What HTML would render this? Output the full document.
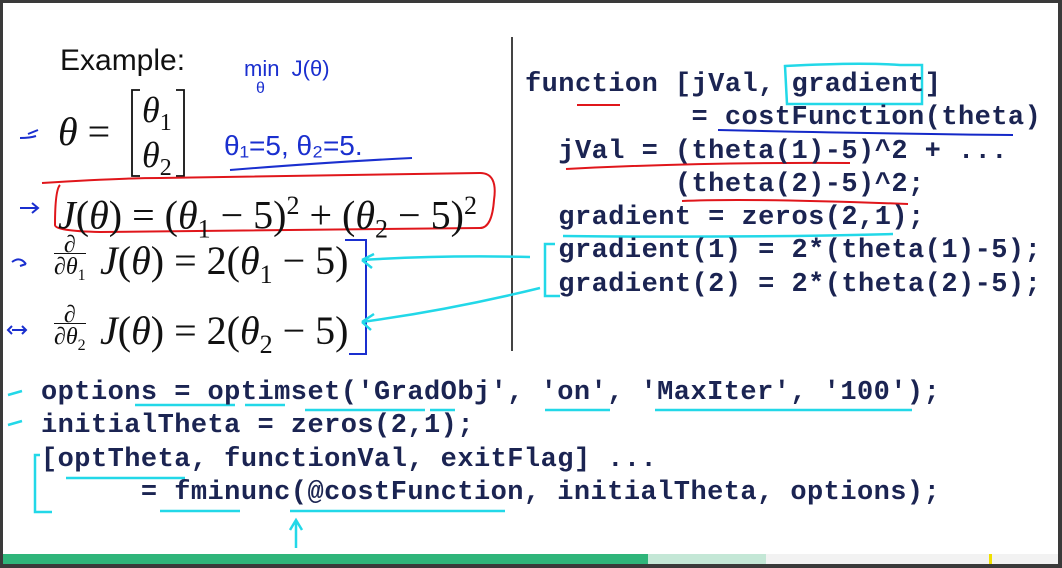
<!DOCTYPE html>
<html><head><meta charset="utf-8"><style>
body{margin:0;width:1062px;height:568px;overflow:hidden;background:#3a3a3a;position:relative}
#pg{position:absolute;left:3px;top:3px;width:1055px;height:551px;background:#fff}
.c{position:absolute;font-family:"Liberation Mono",monospace;font-weight:bold;font-size:27px;letter-spacing:0.45px;color:#1b2452;white-space:pre;line-height:30px}
.m{position:absolute;font-family:"Liberation Serif",serif;font-size:40px;color:#111;white-space:pre;line-height:44px}
.m i{font-style:italic}
sub,sup{font-size:26px;font-style:normal}
.h{position:absolute;font-family:"Liberation Sans",sans-serif;color:#1a2fcf;white-space:pre}
</style></head><body>
<div id="pg"></div>
<div style="position:absolute;left:60px;top:44px;font-family:'Liberation Sans',sans-serif;font-size:30px;color:#111">Example:</div>
<div style="position:absolute;left:511px;top:37px;width:2px;height:314px;background:#444"></div>

<div class="m" style="left:58px;top:110px"><i>θ</i> =</div>
<div class="m" style="left:142px;top:88px;font-size:36px"><i>θ</i><sub style="font-size:24px">1</sub></div>
<div class="m" style="left:142px;top:133px;font-size:36px"><i>θ</i><sub style="font-size:24px">2</sub></div>
<div class="h" style="left:244px;top:56px;font-size:22px">min  J(θ)</div>
<div class="h" style="left:256px;top:80px;font-size:16px">θ</div>
<div class="h" style="left:224px;top:130px;font-size:28px">θ₁=5, θ₂=5.</div>
<svg style="position:absolute;left:0;top:0" width="1062" height="568">
<g fill="none" stroke="#111" stroke-width="1.8"><path d="M140 90 H132 V176 H140 M176 90 H184 V176 H176"/></g>
<g fill="none" stroke="#1a2fcf" stroke-width="2">
<path d="M230 170 Q330 162 412 158"/>
<path d="M345 240 H366 V354 H349"/>
<path d="M20 208 H38 M32 203 l6 5 l-6 5 M12 262 q8 -6 14 2 M26 264 l-6 2 M12 330 H26 M12 326 l-4 4 l4 4 M22 326 l4 4 l-4 4 M28 134 l10 -4 M20 138 q10 0 16 -2"/>
</g>
<g fill="none" stroke="#e0161b" stroke-width="2">
<path d="M42 183 Q120 178 160 178 Q300 176 480 173 Q498 173 494 200 Q492 228 480 228 Q300 230 100 232 Q55 231 55 225 Q55 190 60 185"/>
<path d="M577 105 H620 M566 169 Q700 162 850 163 M682 201 Q750 198 908 204"/>
</g>
<g fill="none" stroke="#1428c8" stroke-width="2"><path d="M718 130 Q900 134 1013 135"/></g>
<g fill="none" stroke="#22d8e8" stroke-width="2.5">
<path d="M785 66 Q860 62 900 65 H922 V104 H787 Z"/>
<path d="M563 236 Q740 238 893 234"/>
<path d="M362 260 Q440 255 530 257 M362 260 l12 -6 M362 260 l10 8"/>
<path d="M362 322 Q450 310 540 288 M362 322 l12 -8 M362 322 l9 8"/>
<path d="M555 244 H545 V296 H560"/>
<path d="M8 395 l14 -4 M8 425 l14 -4"/>
<path d="M135 405 H235 M245 405 H285 M305 410 H425 M430 410 H455 M545 410 H610 M655 410 H912"/>
<path d="M40 455 H35 V512 H52 M66 478 H185 M160 511 H240 M290 511 H505"/>
<path d="M296 548 V520 M290 530 l6 -10 l6 10"/>
</g>
</svg>
<div class="m" style="left:58px;top:184px"><i>J</i>(<i>θ</i>) = (<i>θ</i><sub>1</sub> − 5)<sup>2</sup> + (<i>θ</i><sub>2</sub> − 5)<sup>2</sup></div>
<div class="m" style="left:54px;top:234px;font-size:24px;line-height:22px;text-align:center"><i>∂</i><br><span style="border-top:1.5px solid #111"><i>∂θ</i><sub style="font-size:16px">1</sub></span></div>
<div class="m" style="left:100px;top:239px"><i>J</i>(<i>θ</i>) = 2(<i>θ</i><sub>1</sub> − 5)</div>
<div class="m" style="left:54px;top:304px;font-size:24px;line-height:22px;text-align:center"><i>∂</i><br><span style="border-top:1.5px solid #111"><i>∂θ</i><sub style="font-size:16px">2</sub></span></div>
<div class="m" style="left:100px;top:309px"><i>J</i>(<i>θ</i>) = 2(<i>θ</i><sub>2</sub> − 5)</div>

<div class="c" style="left:525px;top:70px">function [jVal, gradient]</div>
<div class="c" style="left:525px;top:103px">          = costFunction(theta)</div>
<div class="c" style="left:525px;top:137px">  jVal = (theta(1)-5)^2 + ...</div>
<div class="c" style="left:525px;top:170px">         (theta(2)-5)^2;</div>
<div class="c" style="left:525px;top:203px">  gradient = zeros(2,1);</div>
<div class="c" style="left:525px;top:236px">  gradient(1) = 2*(theta(1)-5);</div>
<div class="c" style="left:525px;top:270px">  gradient(2) = 2*(theta(2)-5);</div>

<div class="c" style="left:41px;top:378px">options = optimset('GradObj', 'on', 'MaxIter', '100');</div>
<div class="c" style="left:41px;top:411px">initialTheta = zeros(2,1);</div>
<div class="c" style="left:41px;top:445px">[optTheta, functionVal, exitFlag] ...</div>
<div class="c" style="left:41px;top:478px">      = fminunc(@costFunction, initialTheta, options);</div>

<div style="position:absolute;left:3px;top:554px;width:645px;height:10px;background:#2fb57a"></div>
<div style="position:absolute;left:648px;top:554px;width:118px;height:10px;background:#c4e7d6"></div>
<div style="position:absolute;left:766px;top:554px;width:292px;height:10px;background:#f2f2f2"></div>
<div style="position:absolute;left:989px;top:554px;width:3px;height:10px;background:#f0e000"></div>
</body></html>
